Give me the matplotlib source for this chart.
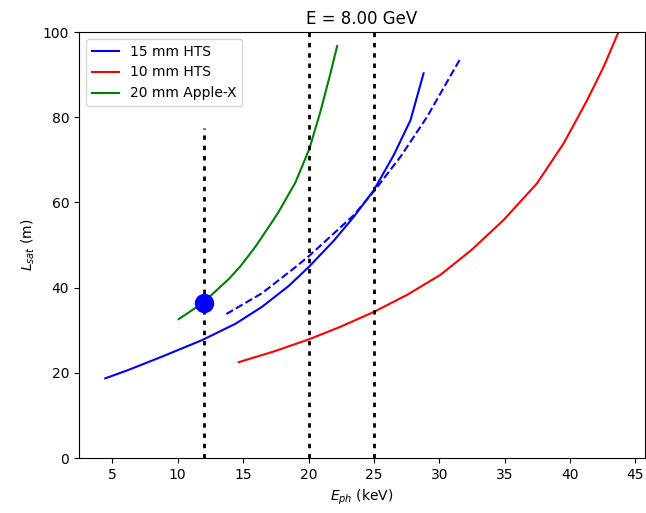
import matplotlib
matplotlib.use('Agg')
import matplotlib.pyplot as plt

# 15 mm HTS (solid)
hts15_x = [4.46, 6.25, 8.80, 11.88, 14.41, 16.45, 18.49, 20.04, 21.93, 23.46, 25.0, 26.5, 27.8, 28.8]
hts15_y = [18.7, 20.7, 23.8, 27.7, 31.5, 35.5, 40.4, 44.9, 51.0, 56.6, 62.9, 71.0, 79.3, 90.3]

# 15 mm HTS (dashed)
hts15d_x = [13.72, 16.45, 19.0, 20.07, 21.93, 23.46, 25.0, 27.03, 29.07, 31.62]
hts15d_y = [33.8, 38.7, 44.8, 47.5, 52.7, 57.0, 62.6, 70.7, 80.1, 93.8]

# 10 mm HTS
hts10_x = [14.66, 17.34, 20.07, 22.44, 25.0, 27.54, 30.09, 32.45, 34.93, 37.48, 39.52, 41.31, 42.58, 43.72]
hts10_y = [22.5, 25.0, 27.9, 30.8, 34.3, 38.3, 43.0, 48.8, 55.9, 64.5, 73.9, 84.0, 91.9, 100.1]

# 20 mm Apple-X
applex_x = [10.07, 11.88, 13.9, 14.79, 15.94, 17.34, 17.72, 19.0, 20.07, 20.91, 21.67, 22.19]
applex_y = [32.6, 36.3, 42.0, 45.0, 49.6, 56.0, 57.8, 64.7, 72.6, 81.3, 90.2, 96.7]

# vertical markers
vline_x = [12, 20, 25]
vline_top = [77.4, 100, 100]

point_x = [12.0]
point_y = [36.4]

fig = plt.figure(figsize=(6.46, 5.13), dpi=100)
ax = fig.add_axes([0.1223, 0.1072, 0.8765, 0.8304])

ax.plot(hts15_x, hts15_y, color='blue', label='15 mm HTS')
ax.plot(hts15d_x, hts15d_y, color='blue', linestyle='--')
ax.plot(hts10_x, hts10_y, color='red', label='10 mm HTS')
ax.plot(applex_x, applex_y, color='green', label='20 mm Apple-X')

for x, top in zip(vline_x, vline_top):
	ax.plot([x, x], [0, top], color='black', linewidth=2, linestyle=(0, (1.6, 2.1)))

ax.plot(point_x, point_y, 'o', color='blue', markersize=13)

ax.set_xlim(2.45, 45.75)
ax.set_ylim(0, 100)
ax.set_xticks([5, 10, 15, 20, 25, 30, 35, 40, 45])
ax.set_xlabel(r'$E_{ph}$ (keV)')
ax.set_ylabel(r'$L_{sat}$ (m)')
ax.set_title('E = 8.00 GeV')
ax.legend(loc='upper left')

fig.savefig('out.png', dpi=100)
